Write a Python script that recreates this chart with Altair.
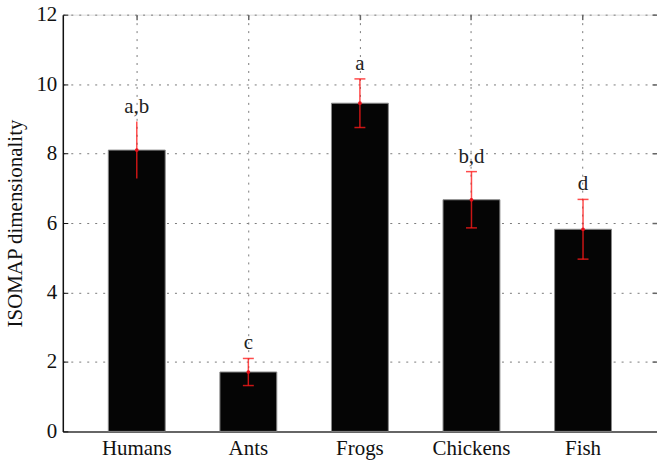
import altair as alt
import pandas as pd

# Mean ISOMAP dimensionality per species, with error half-widths and group letters
animals = ["Humans", "Ants", "Frogs", "Chickens", "Fish"]
means = [8.10, 1.71, 9.45, 6.67, 5.82]
errors = [0.82, 0.39, 0.70, 0.81, 0.86]
letters = ["a,b", "c", "a", "b,d", "d"]

df = pd.DataFrame({"animal": animals, "mean": means, "err": errors, "letter": letters})

W, H = 596, 418
SERIF = "Liberation Serif"
y_ticks = [0, 2, 4, 6, 8, 10, 12]

x_scale = alt.Scale(domain=animals, paddingInner=0.49, paddingOuter=0.408)
y_scale = alt.Scale(domain=[0, 12], nice=False)

base = alt.Chart(df).transform_calculate(
    lo="datum.mean - datum.err", hi="datum.mean + datum.err"
)

bars = base.mark_bar(color="#050505", stroke="#8a8a8a", strokeWidth=1).encode(
    x=alt.X("animal:N", scale=x_scale, sort=animals,
            axis=alt.Axis(title=None, labelAngle=0, labelFontSize=21, labelFont=SERIF,
                          labelColor="#111", labelPadding=6, ticks=False,
                          domainColor="#666", domainWidth=2,
                          grid=True, gridDash=[2, 6], gridColor="#7a7a7a",
                          gridWidth=1, bandPosition=0.5)),
    y=alt.Y("mean:Q", scale=y_scale,
            axis=alt.Axis(title="ISOMAP dimensionality", values=y_ticks,
                          labelFontSize=21, labelFont=SERIF, labelColor="#111",
                          labelPadding=6, ticks=False, domainColor="#111",
                          domainWidth=1.5, grid=True, gridDash=[2, 6],
                          gridColor="#7a7a7a", gridWidth=1,
                          titleFont=SERIF, titleFontSize=21, titleFontWeight="normal",
                          titleColor="#111", titlePadding=10)),
)

# Error bars; their axes only carry the inward tick marks on the left and top edges
err_rule = base.mark_rule(color="#ff1a1a", opacity=0.78, strokeWidth=1.5).encode(
    x=alt.X("animal:N", scale=x_scale, sort=animals,
            axis=alt.Axis(orient="bottom", offset=-H, labels=False, domain=False,
                          grid=False, ticks=True, tickSize=5, tickColor="#666",
                          tickWidth=1.5, title=None, bandPosition=0.5)),
    y=alt.Y("lo:Q", scale=y_scale,
            axis=alt.Axis(orient="right", offset=-W, labels=False, domain=False,
                          grid=False, ticks=True, tickSize=5, tickColor="#111",
                          tickWidth=1, values=y_ticks, title=None)),
    y2="hi:Q",
)

# Error-bar caps; this layer's y axis draws the inward ticks on the right edge
caps = base.transform_filter("datum.animal != 'Humans'").transform_fold(
    ["lo", "hi"], as_=["end", "val"]
).mark_tick(color="#ff1a1a", opacity=0.78, thickness=1.5, size=11).encode(
    x=alt.X("animal:N", scale=x_scale, sort=animals, axis=None),
    y=alt.Y("val:Q", scale=y_scale,
            axis=alt.Axis(orient="left", offset=-W, labels=False, domain=False,
                          grid=False, ticks=True, tickSize=5, tickColor="#666",
                          tickWidth=1.5, values=y_ticks, title=None)),
)

centre = base.mark_point(filled=True, color="#e8101a", size=14, opacity=1).encode(
    x=alt.X("animal:N", scale=x_scale, sort=animals, axis=None),
    y=alt.Y("mean:Q", scale=y_scale, axis=None),
)

labels = base.mark_text(font=SERIF, fontSize=21, color="#222", baseline="alphabetic",
                        dy=-9).encode(
    x=alt.X("animal:N", scale=x_scale, sort=animals, axis=None),
    y=alt.Y("hi:Q", scale=y_scale, axis=None),
    text="letter:N",
)

chart = alt.layer(bars, err_rule, caps, centre, labels).resolve_axis(
    x="independent", y="independent"
).properties(
    width=W, height=H,
    autosize=alt.AutoSizeParams(type="none"),
    padding={"left": 63, "top": 14, "right": 0, "bottom": 29},
).configure_view(stroke="#555", strokeWidth=2).configure(background="white")

chart.save("out.html", embed_options={"renderer": "svg", "actions": False})
